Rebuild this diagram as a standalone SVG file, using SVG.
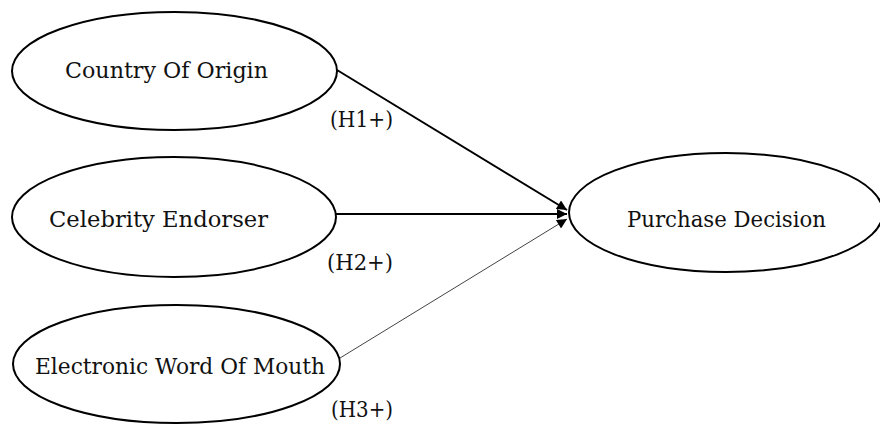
<svg xmlns="http://www.w3.org/2000/svg" width="880" height="430" viewBox="0 0 880 430">
<style>
.node{fill:#fff;stroke:#000;stroke-width:2}
.lbl{font-family:"DejaVu Serif","Liberation Serif",serif;font-size:23px;fill:#111}
.edge{stroke:#000;stroke-width:2;fill:none}
.thin{stroke:#444;stroke-width:1;fill:none}
</style>
<defs>
<marker id="ah" viewBox="0 0 10 10" refX="10" refY="5" markerWidth="12" markerHeight="10" markerUnits="userSpaceOnUse" orient="auto">
<path d="M0,0 L10,5 L0,10 z" fill="#000"/>
</marker>
</defs>
<rect width="880" height="430" fill="#fff"/>
<g id="connectors">
<line class="edge" x1="337" y1="70" x2="567" y2="210" marker-end="url(#ah)"/>
<line class="edge" x1="336" y1="214" x2="567" y2="214" marker-end="url(#ah)"/>
<line class="thin" x1="340" y1="358" x2="567" y2="219" marker-end="url(#ah)"/>
<text class="lbl" x="330" y="127" textLength="63" lengthAdjust="spacingAndGlyphs">(H1+)</text>
<text class="lbl" x="327" y="270" textLength="66" lengthAdjust="spacingAndGlyphs">(H2+)</text>
<text class="lbl" x="331" y="417" textLength="62" lengthAdjust="spacingAndGlyphs">(H3+)</text>
</g>
<g id="country-of-origin">
<ellipse class="node" cx="174.5" cy="71" rx="162.5" ry="59"/>
<text class="lbl" x="65" y="78" textLength="203" lengthAdjust="spacingAndGlyphs">Country Of Origin</text>
</g>
<g id="celebrity-endorser">
<ellipse class="node" cx="174" cy="217" rx="162" ry="60"/>
<text class="lbl" x="49" y="227" textLength="219" lengthAdjust="spacingAndGlyphs">Celebrity Endorser</text>
</g>
<g id="electronic-wom">
<ellipse class="node" cx="176.5" cy="364" rx="163.5" ry="59"/>
<text class="lbl" x="35" y="374" textLength="290" lengthAdjust="spacingAndGlyphs">Electronic Word Of Mouth</text>
</g>
<g id="purchase-decision">
<ellipse class="node" cx="726" cy="212.5" rx="157" ry="59.5"/>
<text class="lbl" x="627" y="227" textLength="199" lengthAdjust="spacingAndGlyphs">Purchase Decision</text>
</g>
</svg>
